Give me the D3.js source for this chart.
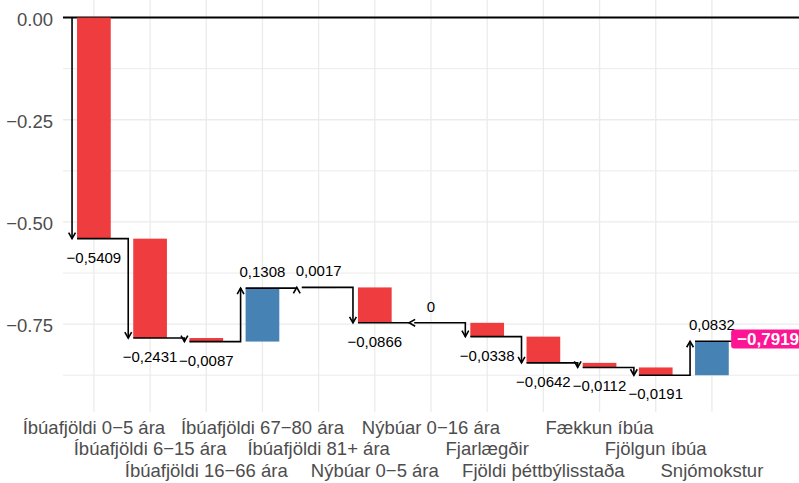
<!DOCTYPE html>
<html>
<head>
<meta charset="utf-8">
<script src="https://cdn.jsdelivr.net/npm/d3@7"></script>
<style>
  html, body { margin: 0; padding: 0; background: #fff; }
  svg { display: block; font-family: "Liberation Sans", Arial, Helvetica, sans-serif; }
</style>
</head>
<body>
<svg id="chart" width="799" height="483"></svg>
<script>
// ---- data ----
const categories = [
  "Íbúafjöldi 0−5 ára",
  "Íbúafjöldi 6−15 ára",
  "Íbúafjöldi 16−66 ára",
  "Íbúafjöldi 67−80 ára",
  "Íbúafjöldi 81+ ára",
  "Nýbúar 0−5 ára",
  "Nýbúar 0−16 ára",
  "Fjarlægðir",
  "Fjöldi þéttbýlisstaða",
  "Fækkun íbúa",
  "Fjölgun íbúa",
  "Snjómokstur"
];
const values = [-0.5409, -0.2431, -0.0087, 0.1308, 0.0017, -0.0866, 0, -0.0338, -0.0642, -0.0112, -0.0191, 0.0832];
const yTicks = [0, -0.25, -0.5, -0.75];
const yMinorTicks = [-0.125, -0.375, -0.625, -0.875];

// ---- layout ----
const W = 799, H = 483;
const panel = { left: 63, right: 799, top: 0, bottom: 412 };
const svg = d3.select("#chart");

const x = d3.scaleLinear().domain([0.45, 13.55]).range([panel.left, panel.right]);
const y = d3.scaleLinear().domain([0.043, -0.965]).range([panel.top, panel.bottom]);

const barHalf = 0.3;        // bar width 0.6 of category step
const arrowOff = 5;         // px left of bar edge
const red = "#EF3D3F", blue = "#4682B4", pink = "#FF1493";

// cumulative
const cum = [];
let acc = 0;
values.forEach(v => { const start = acc; acc = +(acc + v).toFixed(6); cum.push({ start, end: acc, v }); });
const total = acc;

const fmtVal = v => v === 0 ? "0" : v.toFixed(4).replace(".", ",").replace("-", "−");

// ---- grid ----
const g = svg.append("g");
g.selectAll(".minor").data(yMinorTicks).join("line")
  .attr("x1", panel.left).attr("x2", panel.right)
  .attr("y1", d => y(d)).attr("y2", d => y(d))
  .attr("stroke", "#EBEBEB").attr("stroke-width", 1);
g.selectAll(".major").data(yTicks).join("line")
  .attr("x1", panel.left).attr("x2", panel.right)
  .attr("y1", d => y(d)).attr("y2", d => y(d))
  .attr("stroke", "#EBEBEB").attr("stroke-width", 1.3);
g.selectAll(".vgrid").data(categories).join("line")
  .attr("x1", (d, i) => x(i + 1)).attr("x2", (d, i) => x(i + 1))
  .attr("y1", panel.top).attr("y2", panel.bottom)
  .attr("stroke", "#EBEBEB").attr("stroke-width", 1.3);

// ---- y axis labels ----
const yfmt = d3.format(".2f");
svg.selectAll(".ytick").data(yTicks).join("text")
  .attr("x", 53).attr("y", d => y(d) + 8.3)
  .attr("text-anchor", "end")
  .attr("font-size", "18.5px").attr("fill", "#4D4D4D")
  .text(d => yfmt(d));

// ---- x axis labels (3-row dodge) ----
svg.selectAll(".xtick").data(categories).join("text")
  .attr("x", (d, i) => x(i + 1))
  .attr("y", (d, i) => 434 + (i % 3) * 21.3)
  .attr("text-anchor", "middle")
  .attr("font-size", "18.5px").attr("fill", "#4D4D4D")
  .text(d => d);

// ---- zero line ----
svg.append("line")
  .attr("x1", panel.left).attr("x2", panel.right)
  .attr("y1", y(0)).attr("y2", y(0))
  .attr("stroke", "#000").attr("stroke-width", 2);

// ---- bars ----
svg.selectAll(".bar").data(cum).join("rect")
  .attr("x", (d, i) => x(i + 1 - barHalf))
  .attr("width", (d, i) => x(i + 1 + barHalf) - x(i + 1 - barHalf))
  .attr("y", d => y(Math.max(d.start, d.end)))
  .attr("height", d => Math.abs(y(d.start) - y(d.end)))
  .attr("fill", d => d.v < 0 ? red : blue);

// ---- connector arrows ----
const arrows = svg.append("g").attr("fill", "none").attr("stroke", "#000").attr("stroke-width", 1.6)
  .attr("stroke-linejoin", "miter").attr("stroke-linecap", "butt");
const aLen = 6, aHalf = 3.4;
cum.forEach((d, i) => {
  const xv = x(i + 1 - barHalf) - arrowOff;
  const xs = i === 0 ? xv : x(i - barHalf);
  const y0 = y(d.start), y1 = y(d.end);
  arrows.append("path").attr("d", `M${xs},${y0}H${xv}V${y1}`);
  // arrow head
  let head;
  if (y1 > y0) head = `M${xv - aHalf},${y1 - aLen}L${xv},${y1}L${xv + aHalf},${y1 - aLen}`;
  else if (y1 < y0) head = `M${xv - aHalf},${y1 + aLen}L${xv},${y1}L${xv + aHalf},${y1 + aLen}`;
  else head = `M${xv + aLen},${y1 - aHalf}L${xv},${y1}L${xv + aLen},${y1 + aHalf}`;
  arrows.append("path").attr("d", head);
});
// final segment toward total
arrows.append("path").attr("d",
  `M${x(values.length - barHalf)},${y(total)}H${x(values.length + 1 - barHalf) - arrowOff}`);

// ---- value labels ----
svg.selectAll(".vlab").data(cum).join("text")
  .attr("x", (d, i) => x(i + 1))
  .attr("y", d => d.v < 0 ? y(d.end) + 24 : y(d.end) - 11.3)
  .attr("text-anchor", "middle")
  .attr("font-size", "15px").attr("fill", "#000")
  .text(d => fmtVal(d.v));

// ---- total label ----
const tg = svg.append("g");
const tt = tg.append("text")
  .attr("x", x(values.length + 1))
  .attr("y", y(total) + 3.9)
  .attr("text-anchor", "middle")
  .attr("font-size", "17px").attr("font-weight", "bold").attr("fill", "#fff")
  .text(fmtVal(total));
const bb = tt.node().getBBox();
tg.insert("rect", "text")
  .attr("x", bb.x - 6).attr("width", bb.width + 12)
  .attr("y", y(total) - 11.8).attr("height", 19)
  .attr("rx", 3).attr("ry", 3)
  .attr("fill", pink);
</script>
</body>
</html>
